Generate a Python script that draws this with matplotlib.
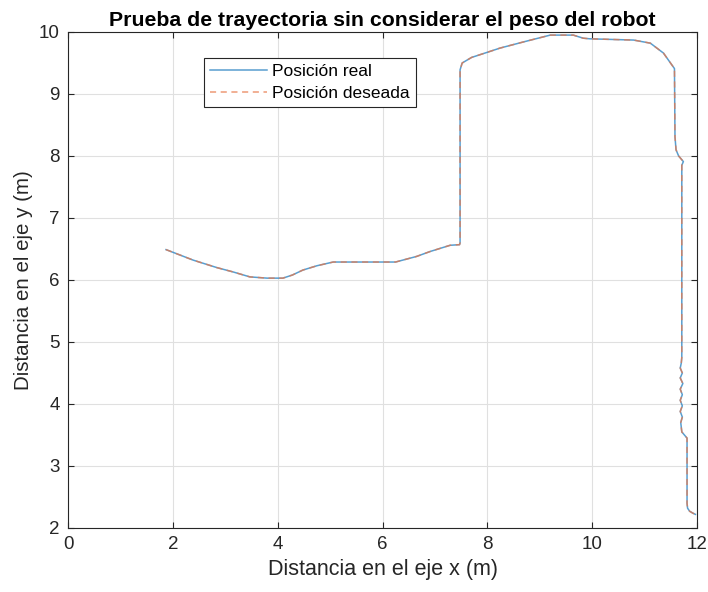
import matplotlib
matplotlib.use("Agg")
import matplotlib.pyplot as plt

plt.rcParams['font.family'] = ['Liberation Sans', 'DejaVu Sans']

title = "Prueba de trayectoria sin considerar el peso del robot"
xlabel = "Distancia en el eje x (m)"
ylabel = "Distancia en el eje y (m)"
labels = ["Posición real", "Posición deseada"]
xticks = [0, 2, 4, 6, 8, 10, 12]
yticks = [2, 3, 4, 5, 6, 7, 8, 9, 10]

x_real = [1.87, 2.39, 2.84, 3.15, 3.47, 3.80, 4.10, 4.28, 4.48, 4.75, 5.06, 5.40, 6.15, 6.25,
          6.65, 6.91, 7.29, 7.47, 7.48, 7.48, 7.52, 7.70, 7.99, 8.24, 8.69, 9.20, 9.64, 9.83,
          9.96, 10.79, 11.11, 11.36, 11.57, 11.58, 11.60, 11.65, 11.74, 11.71, 11.71,
          11.70, 11.68, 11.72, 11.68, 11.73, 11.68, 11.72, 11.68, 11.72, 11.68, 11.72, 11.69,
          11.71, 11.78, 11.81, 11.81, 11.82, 11.86, 11.92, 11.97]
y_real = [6.49, 6.32, 6.20, 6.13, 6.05, 6.03, 6.03, 6.08, 6.16, 6.23, 6.29, 6.29, 6.29, 6.29,
          6.38, 6.46, 6.56, 6.57, 6.60, 9.39, 9.50, 9.59, 9.67, 9.74, 9.84, 9.95, 9.95, 9.90,
          9.89, 9.87, 9.82, 9.66, 9.41, 8.31, 8.10, 8.00, 7.91, 7.85, 4.75,
          4.66, 4.58, 4.50, 4.42, 4.33, 4.24, 4.15, 4.06, 3.97, 3.88, 3.79, 3.70,
          3.55, 3.48, 3.45, 2.40, 2.32, 2.27, 2.24, 2.22]

x_deseada = list(x_real)
y_deseada = list(y_real)

fig = plt.figure(figsize=(7.08, 5.92), dpi=100)
ax = fig.add_axes([68/708, 1-528/592, (697-68)/708, (528-32)/592])

ax.plot(x_real, y_real, color='#2f86c4', lw=1.1, alpha=0.8, label=labels[0])
ax.plot(x_deseada, y_deseada, color='#e8784a', lw=1.1, ls=(0, (4, 3)), alpha=0.75, label=labels[1])

ax.set_xlim(0, 12)
ax.set_ylim(2, 10)
ax.set_xticks(xticks)
ax.set_yticks(yticks)
ax.grid(True, color='#e0e0e0', lw=0.8)
ax.set_axisbelow(True)
ax.tick_params(direction='in', top=True, right=True, length=4, labelsize=13.5,
               colors='#262626', width=0.8, pad=6)
for s in ax.spines.values():
    s.set_color('#262626')
    s.set_linewidth(0.8)

ax.set_title(title, fontsize=15.3, fontweight='bold', pad=4)
ax.set_xlabel(xlabel, fontsize=15.5, color='#262626', labelpad=4)
ax.set_ylabel(ylabel, fontsize=14.8, color='#262626', labelpad=4)

leg = ax.legend(loc='upper left', bbox_to_anchor=(0.216, 0.948), fontsize=12.5,
                fancybox=False, edgecolor='#262626', framealpha=1, borderpad=0.35,
                handlelength=3.3, handletextpad=0.29, labelspacing=0.38, borderaxespad=0)
leg.get_frame().set_linewidth(0.8)

fig.savefig("out.png", dpi=100)
